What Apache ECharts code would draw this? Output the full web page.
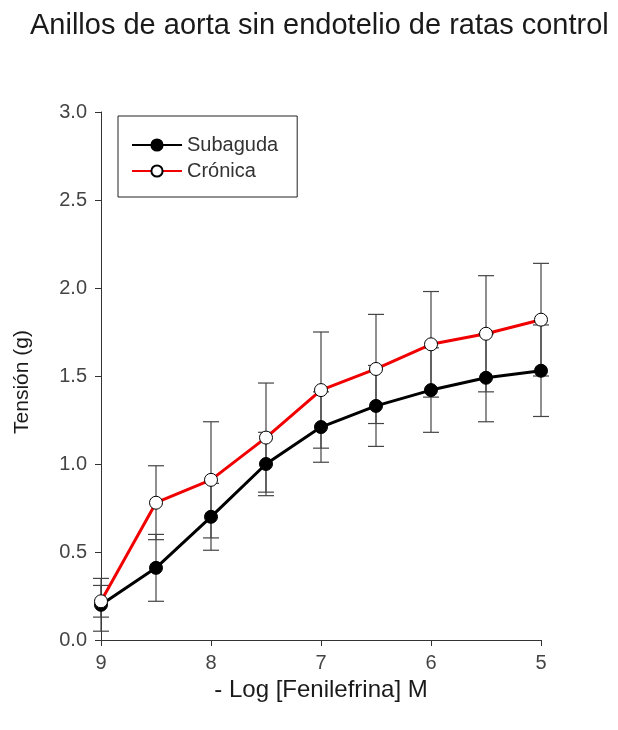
<!DOCTYPE html>
<html>
<head>
<meta charset="utf-8">
<script src="https://cdn.jsdelivr.net/npm/echarts@6/dist/echarts.min.js"></script>
<style>
  html, body { margin: 0; padding: 0; background: #fff; }
  #chart { width: 618px; height: 730px; }
</style>
</head>
<body>
<div id="chart"></div>
<script>
// -log [phenylephrine] concentrations
var doses = [9, 8.5, 8, 7.5, 7, 6.5, 6, 5.5, 5];
// Tension (g) and standard errors for each group
var subaguda = [0.20, 0.41, 0.70, 1.00, 1.21, 1.33, 1.42, 1.49, 1.53];
var subagudaErr = [0.15, 0.19, 0.19, 0.18, 0.20, 0.23, 0.24, 0.25, 0.26];
var cronica = [0.22, 0.78, 0.91, 1.15, 1.42, 1.54, 1.68, 1.74, 1.82];
var cronicaErr = [0.09, 0.21, 0.33, 0.31, 0.33, 0.31, 0.30, 0.33, 0.32];
var seriesNames = ['Subaguda', 'Crónica'];

var FONT = 'Liberation Sans, Arial, sans-serif';

function pairs(ys) {
  return doses.map(function (d, i) { return [d, ys[i]]; });
}
function errTriples(ys, es) {
  return doses.map(function (d, i) { return [d, ys[i], es[i]]; });
}

// vertical error bar with caps
function renderErr(params, api) {
  var x = api.value(0), y = api.value(1), e = api.value(2);
  var top = api.coord([x, y + e]);
  var bot = api.coord([x, y - e]);
  var hw = 8;
  var style = { stroke: '#444', lineWidth: 1.2 };
  return {
    type: 'group',
    children: [
      { type: 'line', shape: { x1: top[0], y1: top[1], x2: bot[0], y2: bot[1] }, style: style },
      { type: 'line', shape: { x1: top[0] - hw, y1: top[1], x2: top[0] + hw, y2: top[1] }, style: style },
      { type: 'line', shape: { x1: bot[0] - hw, y1: bot[1], x2: bot[0] + hw, y2: bot[1] }, style: style }
    ]
  };
}

var chart = echarts.init(document.getElementById('chart'), null, { renderer: 'canvas' });
chart.setOption({
  backgroundColor: '#fff',
  animation: false,
  title: {
    text: 'Anillos de aorta sin endotelio de ratas control',
    left: 25, top: 6,
    textStyle: { fontFamily: FONT, fontSize: 29, fontWeight: 'normal', color: '#1a1a1a' }
  },
  legend: {
    data: seriesNames,
    orient: 'vertical',
    left: 118, top: 116,
    padding: [19, 19, 16, 13],
    itemGap: 6,
    itemWidth: 50, itemHeight: 14,
    borderColor: '#222', borderWidth: 1,
    textStyle: { fontFamily: FONT, fontSize: 20, color: '#333' }
  },
  grid: { left: 101, top: 112, width: 440, height: 528 },
  xAxis: {
    type: 'value', inverse: true,
    min: 5, max: 9, interval: 1,
    name: '- Log [Fenilefrina] M',
    nameLocation: 'middle', nameGap: 37,
    nameTextStyle: { fontFamily: FONT, fontSize: 24, color: '#1a1a1a' },
    axisLine: { lineStyle: { color: '#333', width: 1 } },
    axisTick: { length: 6, lineStyle: { color: '#333' } },
    axisLabel: { fontFamily: FONT, fontSize: 20, color: '#444', margin: 13 },
    splitLine: { show: false }
  },
  yAxis: {
    type: 'value',
    min: 0, max: 3, interval: 0.5,
    name: 'Tensión (g)',
    nameLocation: 'middle', nameGap: 68,
    nameTextStyle: { fontFamily: FONT, fontSize: 21, color: '#1a1a1a', padding: [0, 12, 0, 0] },
    axisLine: { show: true, lineStyle: { color: '#333', width: 1 } },
    axisTick: { show: true, length: 6, lineStyle: { color: '#333' } },
    axisLabel: {
      fontFamily: FONT, fontSize: 20, color: '#444', margin: 14,
      formatter: function (v) { return v.toFixed(1); }
    },
    splitLine: { show: false }
  },
  series: [
    {
      type: 'custom', name: 'errS', data: errTriples(subaguda, subagudaErr),
      renderItem: renderErr, z: 1, silent: true
    },
    {
      type: 'custom', name: 'errC', data: errTriples(cronica, cronicaErr),
      renderItem: renderErr, z: 1, silent: true
    },
    {
      type: 'line', name: seriesNames[0], data: pairs(subaguda), z: 3,
      symbol: 'circle', symbolSize: 13,
      lineStyle: { color: '#000', width: 3 },
      itemStyle: { color: '#000', borderColor: '#000', borderWidth: 1 }
    },
    {
      type: 'line', name: seriesNames[1], data: pairs(cronica), z: 4,
      symbol: 'circle', symbolSize: 13,
      lineStyle: { color: '#f00000', width: 3 },
      itemStyle: { color: '#fff', borderColor: '#000', borderWidth: 1 }
    }
  ]
});
</script>
</body>
</html>
